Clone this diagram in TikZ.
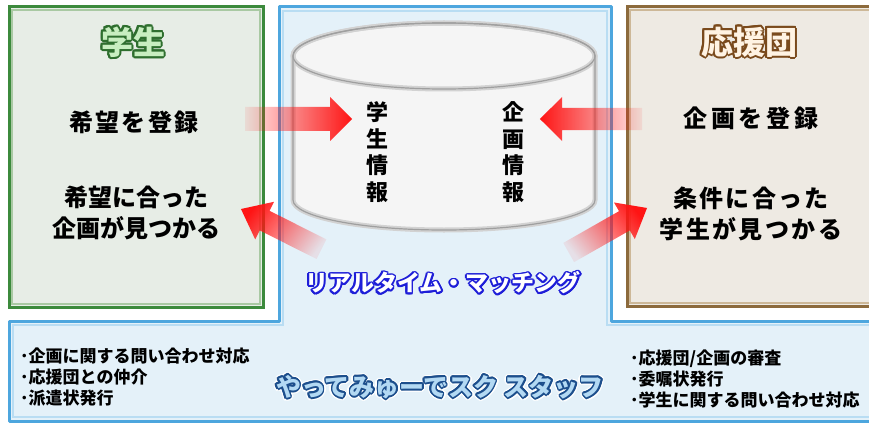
\documentclass[tikz,border=0pt]{standalone}
\usepackage{fontspec}
\setmainfont{Noto Sans CJK JP}
\usetikzlibrary{fadings}
\definecolor{bluefill}{HTML}{E4F1F9}
\definecolor{blueline}{HTML}{4DA6DE}
\definecolor{bluelight}{HTML}{B9DDF3}
\definecolor{greenfill}{HTML}{E7EDE6}
\definecolor{greenline}{HTML}{3C8A3C}
\definecolor{greenlight}{HTML}{A9C9A3}
\definecolor{brownfill}{HTML}{EEEAE3}
\definecolor{brownline}{HTML}{8C6A3C}
\definecolor{brownlight}{HTML}{CDB898}
\definecolor{arrowred}{HTML}{FF1414}
\definecolor{matchblue}{HTML}{1E1ED8}
\definecolor{stafffill}{HTML}{B3D9F3}
\definecolor{staffdark}{HTML}{1C4E8C}
\definecolor{headgreen}{HTML}{C8EEC0}
\definecolor{headgreendark}{HTML}{2E6E2E}
\definecolor{headbrown}{HTML}{FFF3E3}
\definecolor{headbrowndark}{HTML}{7A4A1C}
\tikzfading[name=arrowfade, left color=transparent!92, middle color=transparent!0, right color=transparent!0]
\newcommand{\glowtext}[5]{%
  \foreach \gang in {0,22.5,...,337.5}{\node[#2,text=#3,shift={(\gang:#4)}] at (#1) {#5};}%
}
\tikzset{
  bluereg/.style={fill=bluefill, draw=blueline, line width=3pt, line join=round},
  greenbox/.style={fill=greenfill, draw=greenline, line width=3pt},
  brownbox/.style={fill=brownfill, draw=brownline, line width=3pt},
  redarrow/.style={fill=arrowred, path fading=arrowfade},
  bodytext/.style={font=\fontsize{24}{31}\selectfont\bfseries, text=black, align=center, inner sep=0pt},
  verttext/.style={font=\fontsize{22}{26.5}\selectfont\bfseries, text=black, align=center, inner sep=0pt},
  listtext/.style={font=\fontsize{17}{21}\selectfont\bfseries, text=black, align=left, inner sep=0pt},
  headtext/.style={font=\fontsize{32}{36}\selectfont\bfseries, inner sep=0pt},
  matchtext/.style={font=\fontsize{23}{28}\selectfont\bfseries, inner sep=0pt},
  stafftext/.style={font=\fontsize{25}{28}\selectfont\bfseries, inner sep=0pt},
}
\begin{document}
\begin{tikzpicture}[x=1pt,y=-1pt]
\useasboundingbox (0,0) rectangle (869,425);
\fill[white] (0,0) rectangle (869,425);
% blue staff region
\path[bluereg] (279,7) -- (611,7) -- (611,321) -- (885,321) -- (885,421) -- (9,421) -- (9,321) -- (279,321) -- cycle;
\draw[bluelight, line width=2pt] (283,11) -- (607,11) -- (607,325) -- (885,325) -- (885,417) -- (13,417) -- (13,325) -- (283,325) -- cycle;
% side boxes
\path[greenbox] (9,7) rectangle (263,307);
\draw[greenlight, line width=1.5pt] (12,10) rectangle (260,304);
\path[brownbox] (627,7) rectangle (885,306);
\draw[brownlight, line width=1.5pt] (630,10) rectangle (885,303);
% cylinder
\path[fill=gray!8] (293,56) -- (293,200) arc[start angle=180, end angle=360, x radius=151pt, y radius=30pt] -- (595,56) arc[start angle=0, end angle=180, x radius=151pt, y radius=33pt] -- cycle;
\draw[gray!35, line width=5pt] (293,56) -- (293,200) arc[start angle=180, end angle=360, x radius=151pt, y radius=30pt] -- (595,56) arc[start angle=0, end angle=180, x radius=151pt, y radius=33pt] -- cycle;
\draw[gray!35, line width=5pt] (444,56) ellipse[x radius=151pt, y radius=33pt];
\draw[gray!75, line width=1.2pt] (293,56) -- (293,200) arc[start angle=180, end angle=360, x radius=151pt, y radius=30pt] -- (595,56) arc[start angle=0, end angle=180, x radius=151pt, y radius=33pt] -- cycle;
\draw[gray!75, line width=1.2pt] (444,56) ellipse[x radius=151pt, y radius=33pt];
% headings
\glowtext{133,42}{headtext}{headgreendark}{2pt}{学生}
\node[headtext, text=headgreen] (headstudent) at (133,42) {学生};
\glowtext{749,42}{headtext}{headbrowndark}{2pt}{応援団}
\node[headtext, text=headbrown] (headsupport) at (749,42) {応援団};
% box texts
\node[bodytext, font=\fontsize{24}{31}\selectfont\bfseries\addfontfeatures{LetterSpace=10}] (sreg) at (134,122) {希望を登録};
\node[bodytext] (sfound) at (136,213) {希望に合った\\企画が見つかる};
\node[bodytext, font=\fontsize{24}{31}\selectfont\bfseries\addfontfeatures{LetterSpace=15}] (breg) at (751,118) {企画を登録};
\node[bodytext, font=\fontsize{24}{31}\selectfont\bfseries\addfontfeatures{LetterSpace=10}] (bfound) at (751,214) {条件に合った\\学生が見つかる};
% database contents
\node[verttext] (stinfo) at (377,152) {学\\生\\情\\報};
\node[verttext] (plinfo) at (513,152) {企\\画\\情\\報};
% arrows
\path[redarrow, fading angle=0] (352,119) -- (330,97) -- (330,107) -- (245,107) -- (245,131) -- (330,131) -- (330,141) -- cycle;
\path[redarrow, fading angle=180] (540,119) -- (562,97) -- (562,108) -- (642,108) -- (642,130) -- (562,130) -- (562,141) -- cycle;
\path[redarrow, fading angle=153] (241,209) -- (274,201.8) -- (269.5,210.8) -- (326.4,239.4) -- (316.6,259.0) -- (259.7,230.4) -- (255.2,239.4) -- cycle;
\path[redarrow, fading angle=30] (647,208) -- (614.0,202.5) -- (619.0,211.2) -- (563.3,242.9) -- (574.1,262.1) -- (629.8,230.4) -- (634.8,239.1) -- cycle;
% matching
\glowtext{443,283}{matchtext}{matchblue}{1.7pt}{リアルタイム・マッチング}
\node[matchtext, text=white] (matching) at (443,283) {リアルタイム・マッチング};
% staff
\glowtext{440,387}{stafftext}{white}{3pt}{やってみゅーでスク スタッフ}
\glowtext{440,387}{stafftext}{staffdark}{1.7pt}{やってみゅーでスク スタッフ}
\node[stafftext, text=stafffill] (staff) at (440,387) {やってみゅーでスク スタッフ};
\node[listtext, anchor=west] (leftlist) at (20,377) {･企画に関する問い合わせ対応\\･応援団との仲介\\･派遣状発行};
\node[listtext, anchor=west] (rightlist) at (630,379) {･応援団/企画の審査\\･委嘱状発行\\･学生に関する問い合わせ対応};
\end{tikzpicture}
\end{document}
